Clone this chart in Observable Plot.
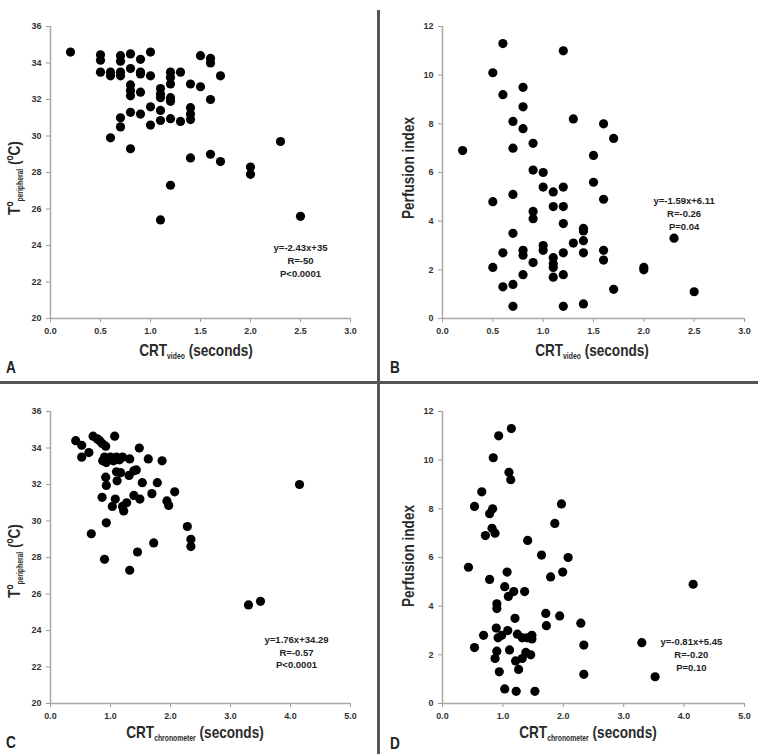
<!DOCTYPE html>
<html>
<head>
<meta charset="utf-8">
<script src="https://cdn.jsdelivr.net/npm/d3@7"></script>
<script src="https://cdn.jsdelivr.net/npm/@observablehq/plot@0.6"></script>
<style>
  html, body { margin: 0; padding: 0; background: #fff; }
  #fig { position: relative; width: 758px; height: 754px; background: #fff; overflow: hidden;
         font-family: "Liberation Sans", Arial, sans-serif; color: #222; }
  .panel { position: absolute; }
  .divider { position: absolute; background: #555; }
  .xtitle, .ytitle { position: absolute; white-space: nowrap; font-size: 17px; font-weight: bold; color: #2a2a2a; line-height: 1; }
  .xtitle { transform: translate(-50%, -50%) scaleX(0.8); }
  .ytitle { transform: translate(-50%, -50%) rotate(-90deg) scaleX(0.8); }
  sub { font-size: 8.5px; vertical-align: -3px; }
  .letter { position: absolute; font-size: 16px; font-weight: bold; color: #222; line-height: 1; transform: scaleX(0.85); transform-origin: left top; }
</style>
</head>
<body>
<div id="fig"></div>
<script>
// Panel A: peripheral temperature vs CRT measured on video
const aCrt = [0.2, 0.5, 0.5, 0.5, 0.6, 0.6, 0.6, 0.7, 0.7, 0.7, 0.7, 0.7, 0.7,
  0.8, 0.8, 0.8, 0.8, 0.8, 0.8, 0.8, 0.9, 0.9, 0.9, 0.9, 0.9, 1.0, 1.0, 1.0, 1.0,
  1.1, 1.1, 1.1, 1.1, 1.1, 1.1, 1.2, 1.2, 1.2, 1.2, 1.2, 1.2, 1.2, 1.3, 1.3,
  1.4, 1.4, 1.4, 1.4, 1.4, 1.5, 1.5, 1.6, 1.6, 1.6, 1.6, 1.7, 1.7, 2.0, 2.0, 2.3, 2.5];
const aTemp = [34.6, 34.45, 34.15, 33.5, 33.5, 33.3, 29.9, 34.4, 34.1, 33.5, 33.3, 31.0, 30.5,
  34.5, 33.7, 32.8, 32.5, 32.2, 31.3, 29.3, 34.2, 33.5, 33.4, 32.4, 31.2, 34.6, 33.3, 31.6, 30.6,
  32.6, 32.3, 32.1, 31.4, 30.85, 25.4, 33.5, 33.2, 32.85, 32.1, 31.9, 30.95, 27.3, 33.5, 30.8,
  32.85, 31.55, 31.2, 30.9, 28.8, 34.4, 32.7, 34.25, 34.0, 32.0, 29.0, 33.3, 28.6, 28.3, 27.9, 29.7, 25.6];

// Panel B: perfusion index vs CRT measured on video
const bCrt = [0.2, 0.5, 0.5, 0.5, 0.6, 0.6, 0.6, 0.6, 0.7, 0.7, 0.7, 0.7, 0.7, 0.7,
  0.8, 0.8, 0.8, 0.8, 0.8, 0.8, 0.9, 0.9, 0.9, 0.9, 0.9, 1.0, 1.0, 1.0, 1.0,
  1.1, 1.1, 1.1, 1.1, 1.1, 1.1, 1.2, 1.2, 1.2, 1.2, 1.2, 1.2, 1.2, 1.3, 1.3,
  1.4, 1.4, 1.4, 1.4, 1.4, 1.5, 1.5, 1.6, 1.6, 1.6, 1.6, 1.7, 1.7, 2.0, 2.0, 2.3, 2.5];
const bPerf = [6.9, 10.1, 4.8, 2.1, 11.3, 9.2, 2.7, 1.3, 8.1, 7.0, 5.1, 3.5, 1.4, 0.5,
  9.5, 8.7, 7.8, 2.8, 2.6, 1.8, 7.2, 6.1, 4.4, 4.1, 2.3, 6.0, 5.4, 3.0, 2.8,
  5.2, 4.6, 2.5, 2.25, 2.1, 1.7, 11.0, 5.4, 4.6, 3.9, 2.7, 1.8, 0.5, 8.2, 3.1,
  3.7, 3.6, 3.2, 2.7, 0.6, 6.7, 5.6, 8.0, 4.9, 2.8, 2.4, 7.4, 1.2, 2.1, 2.0, 3.3, 1.1];

// Panel C: peripheral temperature vs CRT measured by chronometer
const cCrt = [0.42, 0.52, 0.52, 0.64, 0.71, 0.78, 0.82, 0.86, 0.92, 1.07, 1.48, 1.63, 1.86,
  0.87, 0.9, 0.93, 1.0, 1.05, 1.1, 1.15, 1.2, 1.32, 1.1, 1.17, 1.31, 1.39, 1.43,
  0.92, 1.11, 0.93, 1.53, 1.78, 2.07, 0.86, 1.08, 1.39, 1.49, 1.69, 1.94, 1.97,
  1.03, 1.2, 1.27, 1.22, 0.93, 0.68, 2.28, 2.34, 2.34, 1.72, 1.45, 0.9, 1.32, 3.3, 3.5, 4.15];
const cTemp = [34.4, 34.15, 33.5, 33.75, 34.65, 34.5, 34.4, 34.25, 34.1, 34.65, 34.0, 33.4, 33.3,
  33.3, 33.5, 33.2, 33.5, 33.3, 33.5, 33.35, 33.5, 33.4, 32.7, 32.65, 32.5, 32.75, 32.8,
  32.4, 32.2, 31.95, 32.1, 32.1, 31.6, 31.3, 31.2, 31.4, 31.2, 31.5, 31.1, 30.85,
  30.8, 30.8, 31.0, 30.55, 29.9, 29.3, 29.7, 29.0, 28.6, 28.8, 28.3, 27.9, 27.3, 25.4, 25.6, 32.0];

// Panel D: perfusion index vs CRT measured by chronometer
const dCrt = [1.14, 0.93, 0.84, 1.10, 1.13, 0.65, 0.53, 0.83, 0.78, 1.97, 1.86, 0.82, 0.87, 0.71,
  1.41, 1.64, 2.08, 0.43, 1.07, 1.99, 1.79, 0.78, 1.03, 1.18, 1.09, 1.36, 0.9, 0.9, 1.2,
  1.71, 1.94, 1.72, 2.29, 0.89, 1.08, 0.68, 0.92, 0.98, 1.24, 1.32, 1.40, 1.48, 1.48,
  2.34, 0.53, 0.9, 0.87, 1.11, 1.38, 1.46, 1.21, 1.32, 1.26, 0.94, 2.34, 1.03, 1.22, 1.53,
  3.3, 3.52, 4.15];
const dPerf = [11.3, 11.0, 10.1, 9.5, 9.2, 8.7, 8.1, 8.0, 7.8, 8.2, 7.4, 7.2, 7.0, 6.9,
  6.7, 6.1, 6.0, 5.6, 5.4, 5.4, 5.2, 5.1, 4.8, 4.6, 4.4, 4.6, 4.1, 3.9, 3.5,
  3.7, 3.6, 3.2, 3.3, 3.1, 3.0, 2.8, 2.7, 2.8, 2.85, 2.7, 2.7, 2.8, 2.65,
  2.4, 2.3, 2.15, 1.85, 2.2, 2.1, 2.0, 1.75, 1.85, 1.4, 1.3, 1.2, 0.6, 0.5, 0.5,
  2.5, 1.1, 4.9];

// Axis ticks
const videoTicks = [0, 0.5, 1.0, 1.5, 2.0, 2.5, 3.0];
const chronoTicks = [0, 1, 2, 3, 4, 5];
const tempTicks = [20, 22, 24, 26, 28, 30, 32, 34, 36];
const perfTicks = [0, 2, 4, 6, 8, 10, 12];

// Regression annotations
const annA = ["y=-2.43x+35", "R=-50", "P<0.0001"];
const annB = ["y=-1.59x+6.11", "R=-0.26", "P=0.04"];
const annC = ["y=1.76x+34.29", "R=-0.57", "P<0.0001"];
const annD = ["y=-0.81x+5.45", "R=-0.20", "P=0.10"];

const FONT = '"Liberation Sans", Arial, sans-serif';
const fig = document.getElementById("fig");

function scatter({xs, ys, xTicks, yTicks, ann, annX, annY, left, top, width, height, margin}) {
  const rows = xs.map((x, i) => ({x, y: ys[i]}));
  const xDomain = [xTicks[0], xTicks[xTicks.length - 1]];
  const yDomain = [yTicks[0], yTicks[yTicks.length - 1]];
  const chart = Plot.plot({
    width, height,
    marginLeft: margin[3], marginRight: margin[1], marginTop: margin[0], marginBottom: margin[2],
    style: {fontFamily: FONT, fontSize: "9px", fontWeight: "bold", color: "#333", background: "transparent", overflow: "visible"},
    x: {domain: xDomain},
    y: {domain: yDomain},
    marks: [
      Plot.axisX({ticks: xTicks, tickFormat: d3.format(".1f"), tickSize: 4, tickPadding: 5, label: null, stroke: "#9a9a9a", fill: "#333"}),
      Plot.axisY({ticks: yTicks, tickSize: 4, tickPadding: 5, label: null, stroke: "#9a9a9a", fill: "#333"}),
      Plot.ruleY([yDomain[0]], {stroke: "#a8a8a8", strokeWidth: 1.5}),
      Plot.ruleX([xDomain[0]], {stroke: "#a8a8a8", strokeWidth: 1.5}),
      Plot.dot(rows, {x: "x", y: "y", r: 4.6, fill: "#000", stroke: "none"}),
      Plot.text([ann.join("\n")], {x: annX, y: annY, text: d => d, lineHeight: 1.35, fontSize: 9.5, fill: "#222", textAnchor: "middle"})
    ]
  });
  const holder = document.createElement("div");
  holder.className = "panel";
  holder.style.left = left + "px";
  holder.style.top = top + "px";
  holder.appendChild(chart);
  fig.appendChild(holder);
}

scatter({xs: aCrt, ys: aTemp, xTicks: videoTicks, yTicks: tempTicks, ann: annA, annX: 2.5, annY: 23.2,
  left: 0, top: 0, width: 376, height: 380, margin: [26, 26, 62, 50]});
scatter({xs: bCrt, ys: bPerf, xTicks: videoTicks, yTicks: perfTicks, ann: annB, annX: 2.4, annY: 4.35,
  left: 380, top: 0, width: 378, height: 380, margin: [26, 14, 62, 62]});
scatter({xs: cCrt, ys: cTemp, xTicks: chronoTicks, yTicks: tempTicks, ann: annC, annX: 4.1, annY: 22.85,
  left: 0, top: 384, width: 376, height: 370, margin: [27, 26, 51, 50]});
scatter({xs: dCrt, ys: dPerf, xTicks: chronoTicks, yTicks: perfTicks, ann: annD, annX: 4.12, annY: 2.05,
  left: 380, top: 384, width: 378, height: 370, margin: [27, 14, 51, 62]});

// Panel dividers
function divider(left, top, width, height) {
  const d = document.createElement("div");
  d.className = "divider";
  Object.assign(d.style, {left: left + "px", top: top + "px", width: width + "px", height: height + "px"});
  fig.appendChild(d);
}
divider(377, 10, 3, 744);
divider(0, 381, 758, 3);

// Axis titles and panel letters
function label(cls, html, x, y) {
  const d = document.createElement("div");
  d.className = cls;
  d.innerHTML = html;
  d.style.left = x + "px";
  d.style.top = y + "px";
  fig.appendChild(d);
}
const tTitle = "Tº<sub>peripheral</sub> (ºC)";
const pTitle = "Perfusion index";
label("xtitle", "CRT<sub>video</sub> (seconds)", 196, 351);
label("xtitle", "CRT<sub>video</sub> (seconds)", 592, 351);
label("xtitle", "CRT<sub>chronometer</sub> (seconds)", 195, 733);
label("xtitle", "CRT<sub>chronometer</sub> (seconds)", 588, 733);
label("ytitle", tTitle, 15, 178);
label("ytitle", pTitle, 408, 168);
label("ytitle", tTitle, 15, 561);
label("ytitle", pTitle, 408, 556);
label("letter", "A", 6, 360);
label("letter", "B", 390, 360);
label("letter", "C", 6, 735);
label("letter", "D", 390, 736);
</script>
</body>
</html>
